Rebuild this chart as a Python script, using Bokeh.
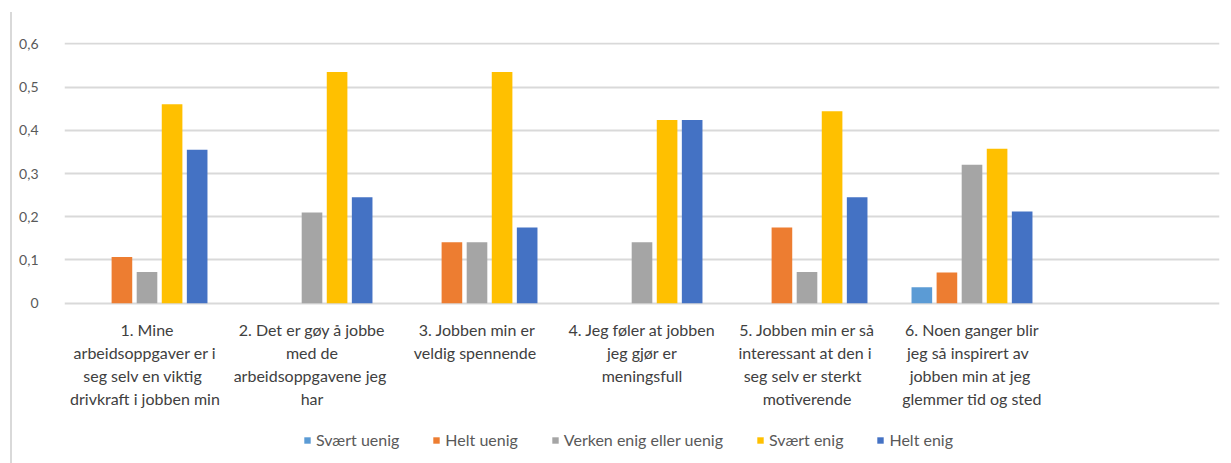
from bokeh.plotting import figure
from bokeh.models import (FactorRange, Range1d, FixedTicker, Legend, LegendItem, ColumnDataSource)
from bokeh.core.properties import value
from bokeh.transform import dodge
from bokeh.embed import file_html
from bokeh.resources import INLINE

# Statements (x categories); one more empty slot is kept at the right end
categories = [
    "1. Mine\narbeidsoppgaver  er i\nseg  selv  en viktig\ndrivkraft i jobben  min",
    "2. Det er gøy å jobbe\nmed de\narbeidsoppgavene  jeg\nhar",
    "3. Jobben min er\nveldig  spennende",
    "4. Jeg føler at jobben\njeg gjør er\nmeningsfull",
    "5. Jobben min er så\ninteressant  at den i\nseg  selv  er sterkt\nmotiverende",
    "6. Noen ganger blir\njeg så inspirert   av\njobben  min at jeg\nglemmer tid og sted",
]
empty_slot = " "

series_names = ["Svært uenig", "Helt uenig", "Verken enig eller uenig", "Svært enig", "Helt enig"]
series_colors = ["#5b9bd5", "#ed7d31", "#a5a5a5", "#ffc000", "#4472c4"]

svaert_uenig = [0.0, 0.0, 0.0, 0.0, 0.0, 0.037]
helt_uenig = [0.107, 0.0, 0.141, 0.0, 0.175, 0.071]
verken_enig_eller_uenig = [0.072, 0.21, 0.141, 0.141, 0.072, 0.32]
svaert_enig = [0.46, 0.535, 0.535, 0.424, 0.444, 0.357]
helt_enig = [0.355, 0.245, 0.175, 0.424, 0.245, 0.212]

y_ticks = [0, 0.1, 0.2, 0.3, 0.4, 0.5, 0.6]
y_tick_labels = ["0", "0,1", "0,2", "0,3", "0,4", "0,5", "0,6"]

series_values = [svaert_uenig, helt_uenig, verken_enig_eller_uenig, svaert_enig, helt_enig]

data = {"cat": categories}
for i, vals in enumerate(series_values):
    data[f"s{i}"] = vals
source = ColumnDataSource(data)

FONT = "Lato"
TEXT = "#595959"

# the frame reaches down to the page bottom so the wrapped category
# texts and the legend can sit underneath the value area
p = figure(
    x_range=FactorRange(factors=categories + [empty_slot]),
    y_range=Range1d(-0.366, 0.603),
    frame_width=1155, frame_height=419,
    output_backend="svg", toolbar_location=None,
    x_axis_location=None,
    min_border_left=52, min_border_right=12, min_border_top=30, min_border_bottom=2,
)
p.margin = (12, 0, 0, 10)
p.styles = {"border-left": "2px solid #d9d9d9"}
p.outline_line_color = None
p.background_fill_color = "white"
p.border_fill_color = "white"

# value axis
p.yaxis.ticker = FixedTicker(ticks=y_ticks)
p.yaxis.major_label_overrides = dict(zip(y_ticks, y_tick_labels))
p.yaxis.axis_line_color = None
p.yaxis.major_tick_line_color = None
p.yaxis.minor_tick_line_color = None
p.yaxis.major_label_standoff = 20
p.yaxis.major_label_text_font = FONT
p.yaxis.major_label_text_font_size = "14px"
p.yaxis.major_label_text_color = TEXT

p.xgrid.grid_line_color = None
p.ygrid.ticker = FixedTicker(ticks=y_ticks)
p.ygrid.grid_line_color = "#d9d9d9"
p.ygrid.grid_line_width = 2

# clustered bars
bar_w = 0.125
pitch = 0.152
renderers = []
n = len(series_values)
for i in range(n):
    off = (i - (n - 1) / 2) * pitch
    r = p.vbar(x=dodge("cat", off, range=p.x_range), top=f"s{i}", width=bar_w,
               source=source, fill_color=series_colors[i], line_color=None)
    renderers.append(r)

# wrapped statement texts under each cluster
p.text(x="cat", y=0, text="cat", source=source,
       text_align="center", text_baseline="top", y_offset=17,
       text_font=value(FONT), text_font_size="16px", text_color="#404040",
       text_line_height=1.2)

legend = Legend(
    items=[LegendItem(label=name, renderers=[r]) for name, r in zip(series_names, renderers)],
    orientation="horizontal", location=(239, 12),
    glyph_width=8, glyph_height=8, label_standoff=5, spacing=33,
    label_text_font=FONT, label_text_font_size="16px", label_text_color=TEXT,
    border_line_color=None, background_fill_alpha=0, padding=2, margin=0,
)
p.add_layout(legend, "center")

open("out.html", "w").write(file_html(p, INLINE))
